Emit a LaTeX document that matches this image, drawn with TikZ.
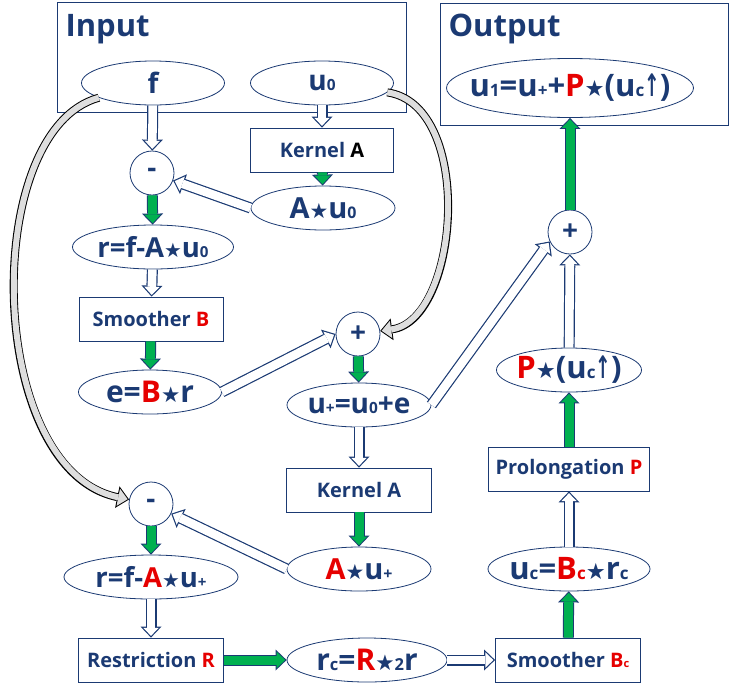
\documentclass[tikz,border=0pt]{standalone}
\usepackage{fontspec}
\usepackage{graphicx}
\setmainfont{Open Sans}
\newfontfamily\symfont{DejaVu Sans}
\usetikzlibrary{shapes.geometric,arrows.meta}

\definecolor{navy}{RGB}{27,58,115}
\definecolor{flowgreen}{RGB}{0,176,80}
\definecolor{hot}{RGB}{230,0,0}
\definecolor{bandgray}{RGB}{222,222,222}

% small baseline index, star product, up arrow, red operator
\newcommand{\lo}[1]{\scalebox{0.55}{#1}}
\newcommand{\st}{{\symfont\scalebox{0.72}{★}}}
\newcommand{\upa}{{\symfont\scalebox{0.6}[1]{↑}}}
\newcommand{\hl}[1]{\textcolor{hot}{#1}}

\tikzset{
  every node/.style={text=navy,font=\bfseries},
  sz/.style={font=\bfseries\fontsize{#1}{#1}\selectfont},
  oval/.style={ellipse,draw=navy,line width=0.8pt,fill=white,
    inner xsep=-20pt,inner ysep=-5pt,minimum width=#1,minimum height=44pt,sz=28},
  box/.style={rectangle,draw=navy,line width=0.8pt,fill=white,
    inner sep=0pt,minimum width=#1,minimum height=44pt,sz=20},
  op/.style={circle,draw=navy,line width=0.8pt,fill=white,
    inner sep=0pt,minimum size=44pt,sz=28},
  % outlined block arrows: navy body, then a smaller inner body
  hollow/.style={line width=11pt,draw=navy,
    -{Triangle[length=11pt,width=21pt,line width=0pt]},
    postaction={draw=white,line width=8.6pt,shorten >=1.74pt,
      -{Triangle[length=8.06pt,width=15.4pt,line width=0pt]}}},
  push/.style={line width=11pt,draw=navy,
    -{Triangle[length=11pt,width=21pt,line width=0pt]},
    postaction={draw=flowgreen,line width=9pt,shorten >=1.45pt,
      -{Triangle[length=8.55pt,width=16.3pt,line width=0pt]}}},
  band/.style={line width=8pt,draw=black,
    -{Triangle[length=12pt,width=22pt,line width=0pt]},
    postaction={draw=bandgray,line width=6pt,shorten >=1.48pt,
      -{Triangle[length=9.52pt,width=17.45pt,line width=0pt]}}}
}

\begin{document}
\begin{tikzpicture}[x=1pt,y=-1pt]
\useasboundingbox (0,0) rectangle (730,688);

% Frames for the data going in and out.
\draw[navy,line width=0.8pt] (57,2) rectangle (406,112);
\draw[navy,line width=0.8pt] (440,3) rectangle (728,125);
\node[anchor=base west,sz=31] (inlab) at (62,36) {Input};
\node[anchor=base west,sz=31] (outlab) at (445,36) {Output};

% Fine level: residual and smoothing.
\node[oval=143pt] (f) at (153,83) {f};
\node[oval=143pt] (u0) at (322,83) {u\lo{0}};
\node[box=143pt] (k1) at (322,150) {Kernel \textcolor{black}{A}};
\node[op] (m1) at (152,173) {-};
\node[oval=144pt,sz=29] (au0) at (323,208) {A\st u\lo{0}};
\node[oval=161pt,sz=27.5] (r0) at (153,247) {r=f-A\st u\lo{0}};
\node[box=144pt] (sb) at (151,319) {Smoother \hl{B}};
\node[oval=143pt,sz=30] (e) at (150,392) {e=\hl{B}\st r};
\node[op] (pm) at (358,334) {+};
\node[oval=144pt] (up) at (359,405) {u\lo{+}=u\lo{0}+e};
\node[box=145pt] (k2) at (359,490) {Kernel A};
\node[oval=144pt,sz=29] (aup) at (359,569) {\hl{A}\st u\lo{+}};
\node[op] (mm) at (151,504) {-};
\node[oval=174pt,sz=27.5] (rp) at (151,577) {r=f-\hl{A}\st u\lo{+}};

% Coarse level and the way back up.
\node[box=145pt] (rr) at (151,660) {Restriction \hl{R}};
\node[oval=160pt,sz=30] (rc) at (367,660) {r\lo{c}=\hl{R}\st\lo{2}r};
\node[box=145pt] (sc) at (568,660) {Smoother \hl{B\lo{c}}};
\node[oval=162pt,sz=31] (uc) at (569,569) {u\lo{c}=\hl{B\lo{c}}\st r\lo{c}};
\node[box=161pt] (pp) at (569,469) {Prolongation \hl{P}};
\node[oval=145pt,sz=31] (pu) at (569,370) {\hl{P}\st(u\lo{c}\upa)};
\node[op] (pr) at (570,232) {+};
\node[oval=247pt,minimum height=59pt,sz=31] (out) at (570,88)
  {u\lo{1}=u\lo{+}+\hl{P}\st(u\lo{c}\upa)};

% Arrows.
\draw[hollow] (f) -- (m1);
\draw[hollow] (u0) -- (k1);
\draw[push] (k1) -- (au0);
\draw[hollow] (au0.west) -- (m1);
\draw[push] (m1) -- (r0);
\draw[hollow] (r0) -- (sb);
\draw[push] (sb) -- (e);
\draw[hollow] (e.east) -- (pm.west);
\draw[band] (u0) .. controls (475,105) and (460,320) .. (pm);
\draw[push] (pm) -- (up);
\draw[hollow] (up) -- (k2);
\draw[push] (k2) -- (aup);
\draw[hollow] (aup.west) -- (mm);
\draw[band] (f) .. controls (-20,130) and (-15,470) .. (mm);
\draw[push] (mm) -- (rp);
\draw[hollow] (rp) -- (rr);
\draw[push] (rr) -- (rc);
\draw[hollow] (rc) -- (sc);
\draw[push] (sc) -- (uc);
\draw[hollow] (uc) -- (pp);
\draw[push] (pp) -- (pu);
\draw[hollow] (pu) -- (pr);
\draw[hollow] (up.east) -- (pr.205);
\draw[push] (pr) -- (out);

\end{tikzpicture}
\end{document}
